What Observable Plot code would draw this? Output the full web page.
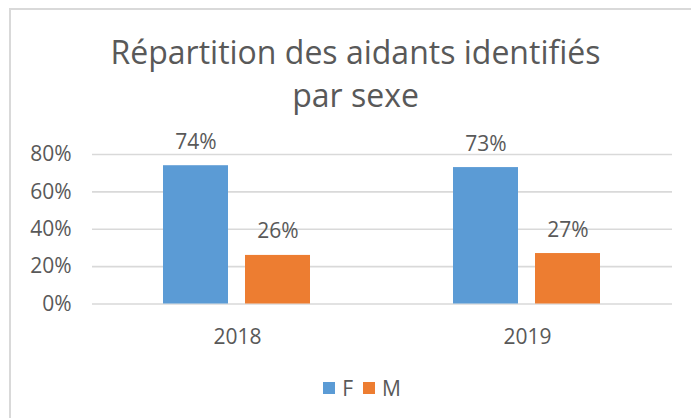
<!DOCTYPE html>
<html>
<head>
<meta charset="utf-8">
<script src="https://cdn.jsdelivr.net/npm/d3@7"></script>
<script src="https://cdn.jsdelivr.net/npm/@observablehq/plot@0.6"></script>
<style>
  html, body { margin: 0; padding: 0; background: #fff; }
  #frame { position: relative; width: 691px; height: 418px; overflow: hidden; font-family: "Open Sans", sans-serif; color: #595959; }
  #border { position: absolute; left: 9px; top: 8px; width: 800px; height: 600px; border-left: 2px solid #d9d9d9; border-top: 2px solid #d9d9d9; pointer-events: none; }
  #title { position: relative; box-sizing: border-box; width: 691px; height: 130px; padding-top: 30px; padding-left: 20px; text-align: center; font-size: 32px; line-height: 43px; font-weight: 400; color: #595959; margin: 0; }
  #chart { height: 235px; overflow: visible; }
  #chart svg { display: block; }
  #legend { box-sizing: border-box; width: 691px; height: 46px; padding-left: 33px; display: flex; justify-content: center; align-items: center; font-size: 21px; line-height: 20px; color: #595959; }
  .sw { display: inline-block; width: 12px; height: 12px; margin-right: 7px; }
  .item { display: flex; align-items: center; margin: 0 5px; }
</style>
</head>
<body>
<div id="frame">
  <div id="border"></div>
  <div id="title">Répartition des aidants identifiés<br>par sexe</div>
  <div id="chart"></div>
  <div id="legend"></div>
</div>
<script>
const years = ["2018", "2019"];
const sexes = ["F", "M"];
const valuesF = [0.74, 0.73];
const valuesM = [0.26, 0.27];
const yTicks = [0, 0.2, 0.4, 0.6, 0.8];
const colors = ["#5B9BD5", "#ED7D31"];

const data = years.flatMap((yr, i) => [
  {year: yr, sex: "F", value: valuesF[i]},
  {year: yr, sex: "M", value: valuesM[i]}
]);

const pct = d => Math.round(d * 100) + "%";

const chart = Plot.plot({
  width: 691,
  height: 235,
  marginTop: 24,
  marginBottom: 61.5,
  marginLeft: 91,
  marginRight: 19,
  style: {fontFamily: "Open Sans, sans-serif", fontSize: "21px", color: "#595959", background: "transparent", overflow: "visible"},
  fx: {domain: years, padding: 0, axis: "bottom", tickSize: 0, tickPadding: 25, label: null},
  x: {domain: sexes, paddingInner: 0.203, paddingOuter: 0.86, axis: null},
  y: {domain: [0, 0.8], axis: null},
  color: {domain: sexes, range: colors},
  marks: [
    Plot.gridY(yTicks, {stroke: "#d9d9d9", strokeOpacity: 1, strokeWidth: 1.6}),
    Plot.axisY(yTicks, {tickSize: 0, tickPadding: 21, tickFormat: pct, label: null, fill: "#595959"}),
    Plot.barY(data, {fx: "year", x: "sex", y: "value", fill: "sex"}),
    Plot.text(data, {fx: "year", x: "sex", y: "value", text: d => pct(d.value), lineAnchor: "bottom", dy: -17, fill: "#595959", fontSize: 21})
  ]
});
document.getElementById("chart").appendChild(chart);

const legend = document.getElementById("legend");
sexes.forEach((s, i) => {
  const item = document.createElement("span");
  item.className = "item";
  const sw = document.createElement("span");
  sw.className = "sw";
  sw.style.background = colors[i];
  const lab = document.createElement("span");
  lab.textContent = s;
  item.appendChild(sw);
  item.appendChild(lab);
  legend.appendChild(item);
});
</script>
</body>
</html>
